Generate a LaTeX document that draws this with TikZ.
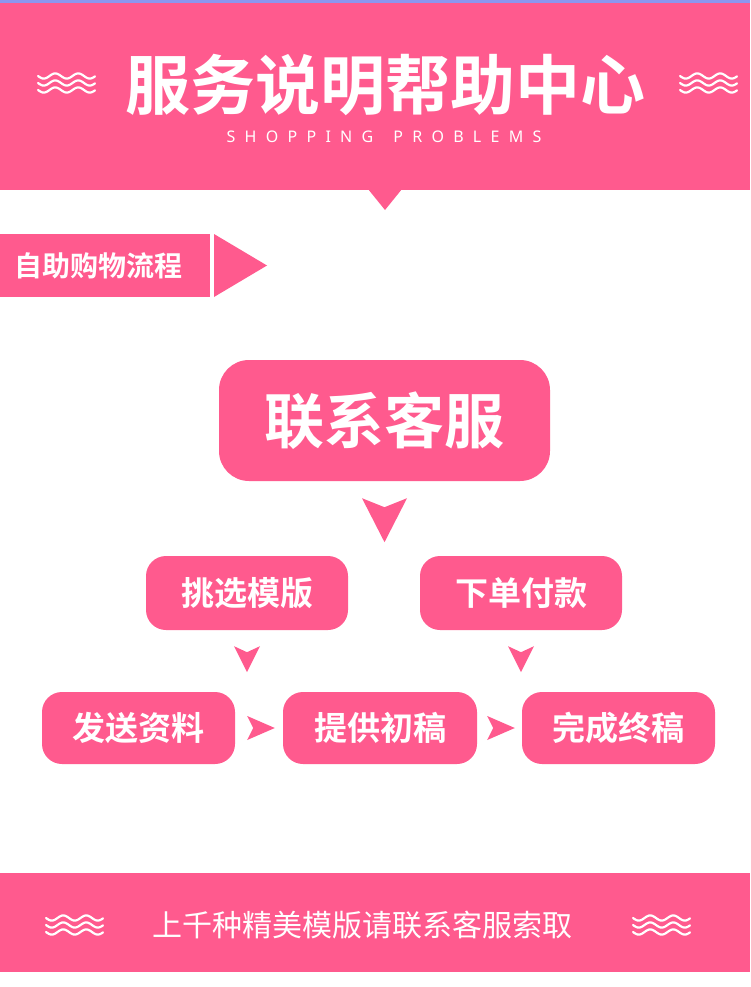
\documentclass[tikz,border=0pt]{standalone}
\usepackage{fontspec}
\newfontfamily\cjk{Noto Sans CJK SC}[BoldFont={Noto Sans CJK SC Bold}]
\newfontfamily\latinf[LetterSpace=58]{Noto Sans}
\usetikzlibrary{calc}
\definecolor{pinkc}{RGB}{255,90,142}
\definecolor{topc}{RGB}{140,150,240}
\tikzset{
  box/.style={fill=pinkc, rounded corners=20pt, text=white, inner sep=0pt,
    font=\cjk\bfseries\fontsize{33}{36}\selectfont},
  wave/.style={draw=white, line width=2.2pt, line cap=round},
  dartc/.style={fill=pinkc},
  waves/.pic={\foreach \dy in {-7,0,7}{\draw[wave] plot[domain=0:57,samples=40,smooth] (\x,{\dy+2.6*sin(\x*15.652)});}}
}
\begin{document}
\begin{tikzpicture}[x=1pt,y=-1pt]
\useasboundingbox (0,0) rectangle (750,987);
\fill[white] (0,0) rectangle (750,987);
% header
\fill[pinkc] (0,3) rectangle (750,190);
\fill[topc] (0,0) rectangle (750,3);
\fill[pinkc] (368,189) -- (402,189) -- (385,210) -- cycle;
\node[font=\cjk\bfseries\fontsize{65}{70}\selectfont, text=white, inner sep=0pt] (title) at (385,85) {服务说明帮助中心};
\node[font=\latinf\fontsize{16}{18}\selectfont, text=white, inner sep=0pt] (sub) at (384,137) {SHOPPING\kern 20pt PROBLEMS};
\pic at (38,83) {waves};
\pic at (680,83) {waves};
% section label
\fill[pinkc] (0,234) rectangle (210,297);
\fill[pinkc] (214,234) -- (267,265.5) -- (214,297) -- cycle;
\node[font=\cjk\bfseries\fontsize{28}{30}\selectfont, text=white, inner sep=0pt] (sec) at (98,266) {自助购物流程};
% flow boxes
\node[box, rounded corners=30pt, minimum width=331pt, minimum height=121pt,
      font=\cjk\bfseries\fontsize{60}{64}\selectfont] (kf) at (384.5,420.5) {联系客服};
\node[box, minimum width=202pt, minimum height=74pt] (tx) at (247,593) {挑选模版};
\node[box, minimum width=202pt, minimum height=74pt] (xd) at (521,593) {下单付款};
\node[box, minimum width=193pt, minimum height=72pt] (fs) at (138.5,728) {发送资料};
\node[box, minimum width=194pt, minimum height=72pt] (tg) at (380,728) {提供初稿};
\node[box, minimum width=193pt, minimum height=72pt] (wc) at (618.5,728) {完成终稿};
% arrowheads
\fill[dartc] ($(kf.south)+(-22.5,17)$) -- ++(22.5,9) -- ++(22.5,-9) -- ($(kf.south)+(0,61)$) -- cycle;
\fill[dartc] ($(tx.south)+(-13,16)$) -- ++(13,6) -- ++(13,-6) -- ($(tx.south)+(0,42)$) -- cycle;
\fill[dartc] ($(xd.south)+(-13,16)$) -- ++(13,6) -- ++(13,-6) -- ($(xd.south)+(0,42)$) -- cycle;
\fill[dartc] ($(fs.east)+(12,-12)$) -- ++(6,12) -- ++(-6,12) -- ($(tg.west)+(-8,0)$) -- cycle;
\fill[dartc] ($(tg.east)+(10,-12)$) -- ++(6,12) -- ++(-6,12) -- ($(wc.west)+(-7,0)$) -- cycle;
% footer
\fill[pinkc] (0,873) rectangle (750,972);
\node[font=\cjk\fontsize{30}{32}\selectfont, text=white, inner sep=0pt] (foot) at (362,925) {上千种精美模版请联系客服索取};
\pic at (46,925) {waves};
\pic at (633,925) {waves};
\end{tikzpicture}
\end{document}
